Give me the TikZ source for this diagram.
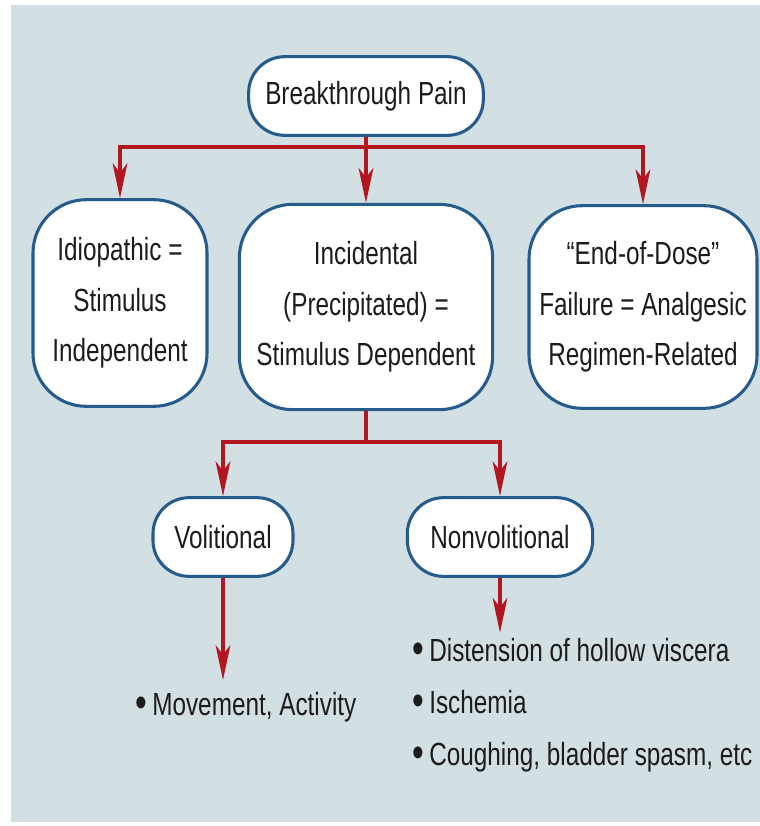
\documentclass[tikz,border=0pt]{standalone}
\usepackage{fontspec}
\setmainfont{Liberation Sans}[FakeStretch=0.76]
\usetikzlibrary{arrows.meta}
\definecolor{panel}{RGB}{210,224,227}
\definecolor{rim}{RGB}{38,92,140}
\definecolor{flow}{RGB}{178,22,32}
\definecolor{ink}{RGB}{30,27,28}
\newcommand\blt{\raisebox{-1.5pt}{\fontsize{33}{39}\selectfont•}\,}

\begin{document}
\begin{tikzpicture}[x=0.75pt,y=-0.75pt,
    box/.style={draw=rim,line width=2.3pt,fill=white,text=ink,align=center,
                inner sep=0pt,font=\fontsize{24}{38}\selectfont},
    pill/.style={box,rounded corners=27pt,minimum height=59pt},
    tall/.style={box,rounded corners=40pt},
    feed/.style={draw=flow,line width=3pt},
    hit/.style={feed,-{Stealth[length=26pt,width=11pt,inset=7pt]}},
    item/.style={text=ink,align=left,inner sep=0pt,font=\fontsize{24}{39}\selectfont}]
% backdrop
\useasboundingbox (0,0) rectangle (760,826);
\fill[panel] (11,5) rectangle (760,822);
% top level
\node[pill,minimum width=176pt] (pain) at (366,96) {Breakthrough Pain};
\node[tall,minimum width=130.5pt,minimum height=155pt] (idio) at (120,303)
      {Idiopathic =\\Stimulus\\Independent};
\node[tall,minimum width=190pt,minimum height=154pt] (incid) at (366,307)
      {Incidental\\(Precipitated) =\\Stimulus Dependent};
\node[tall,minimum width=171pt,minimum height=152pt] (eod) at (643,307)
      {“End-of-Dose”\\Failure = Analgesic\\Regimen-Related};
% second level
\node[pill,minimum width=105pt] (vol) at (223,537) {Volitional};
\node[pill,minimum width=139pt] (nonvol) at (500,537) {Nonvolitional};
\node[item,anchor=north west] (mov) at (135,692) {\blt Movement, Activity};
\node[item,anchor=north west] (list) at (412,638)
      {\blt Distension of hollow viscera\\\blt Ischemia\\\blt Coughing, bladder spasm, etc};
% connectors
\coordinate (split) at (366,147);
\coordinate (fork) at (366,442);
\draw[feed] (pain) -- (split);
\draw[hit] (split) -| (idio);
\draw[hit] (split) -- (incid);
\draw[hit] (split) -| (eod);
\draw[feed] (incid) -- (fork);
\draw[hit] (fork) -| (vol);
\draw[hit] (fork) -| (nonvol);
\draw[hit] (vol) -- ([yshift=9pt]vol |- mov.north);
\draw[hit] (nonvol) -- ([yshift=4pt]nonvol |- list.north);
\end{tikzpicture}
\end{document}
